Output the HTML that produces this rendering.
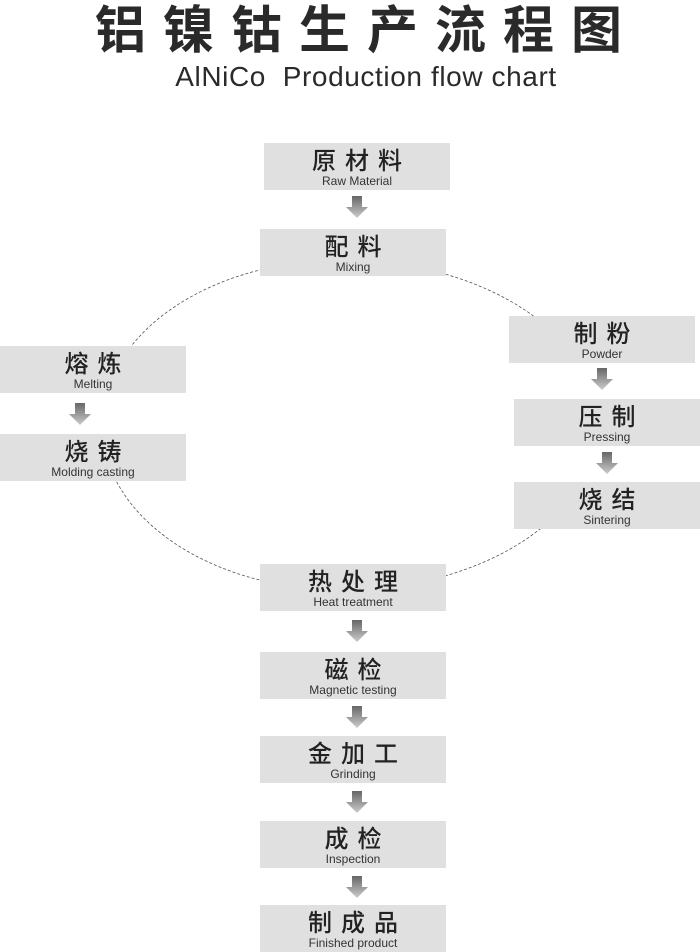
<!DOCTYPE html>
<html><head><meta charset="utf-8"><style>
body{margin:0;width:700px;height:952px;background:#fff;position:relative;overflow:hidden;font-family:"Liberation Sans","Noto Sans CJK SC",sans-serif;color:#2a2a2a}
.t{position:absolute;left:0;width:700px;text-align:center}
.b{position:absolute;width:186px;height:47px;background:#e0e0e0;text-align:center}
.b .c{font-size:24px;font-weight:500;letter-spacing:9px;padding-left:9px;line-height:26px;margin-top:3px;color:#222;font-family:"Noto Sans CJK SC",sans-serif}
.b .e{font-size:12px;line-height:14px;color:#333;margin-top:2px}
</style></head><body>
<div class="t" style="top:-4px;font-size:51px;font-weight:bold;letter-spacing:17px;padding-left:17px;font-family:'Noto Sans CJK SC',sans-serif;color:#2a2a2a;line-height:60px">铝镍钴生产流程图</div>
<div class="t" style="top:61px;font-size:28px;letter-spacing:0.6px;padding-left:16px;line-height:32px;color:#2a2a2a">AlNiCo&nbsp; Production flow chart</div>
<svg style="position:absolute;left:0;top:0" width="700" height="952">
<path d="M342,260 A240,165 0 0 0 342,590" fill="none" stroke="#555" stroke-width="0.8" stroke-dasharray="3,2"/>
<path d="M342,260 A255,165 0 0 1 342,590" fill="none" stroke="#555" stroke-width="0.8" stroke-dasharray="3,2"/>
<rect x="10" y="393" width="130" height="41" fill="#fff"/>
<rect x="512" y="363" width="185" height="36" fill="#fff"/>
<rect x="512" y="446" width="188" height="36" fill="#fff"/>
<defs><linearGradient id="g" x1="0" y1="0" x2="0" y2="1"><stop offset="0" stop-color="#666"/><stop offset="1" stop-color="#ccc"/></linearGradient></defs>
<g fill="url(#g)">
<path id="ar" d="M-5,0h10v11h6l-11,11l-11,-11h6z" transform="translate(357,196)"/>
<use href="#ar" transform="translate(-277,207)"/>
<use href="#ar" transform="translate(245,172)"/>
<use href="#ar" transform="translate(250,256)"/>
<use href="#ar" transform="translate(0,424)"/>
<use href="#ar" transform="translate(0,510)"/>
<use href="#ar" transform="translate(0,595)"/>
<use href="#ar" transform="translate(0,680)"/>
</g>
</svg>
<div class="b" style="left:264px;top:143px"><div class="c">原材料</div><div class="e">Raw Material</div></div>
<div class="b" style="left:260px;top:229px"><div class="c">配料</div><div class="e">Mixing</div></div>
<div class="b" style="left:0;top:346px"><div class="c">熔炼</div><div class="e">Melting</div></div>
<div class="b" style="left:0;top:434px"><div class="c">烧铸</div><div class="e">Molding casting</div></div>
<div class="b" style="left:509px;top:316px"><div class="c">制粉</div><div class="e">Powder</div></div>
<div class="b" style="left:514px;top:399px"><div class="c">压制</div><div class="e">Pressing</div></div>
<div class="b" style="left:514px;top:482px"><div class="c">烧结</div><div class="e">Sintering</div></div>
<div class="b" style="left:260px;top:564px"><div class="c">热处理</div><div class="e">Heat treatment</div></div>
<div class="b" style="left:260px;top:652px"><div class="c">磁检</div><div class="e">Magnetic testing</div></div>
<div class="b" style="left:260px;top:736px"><div class="c">金加工</div><div class="e">Grinding</div></div>
<div class="b" style="left:260px;top:821px"><div class="c">成检</div><div class="e">Inspection</div></div>
<div class="b" style="left:260px;top:905px"><div class="c">制成品</div><div class="e">Finished product</div></div>
</body></html>
